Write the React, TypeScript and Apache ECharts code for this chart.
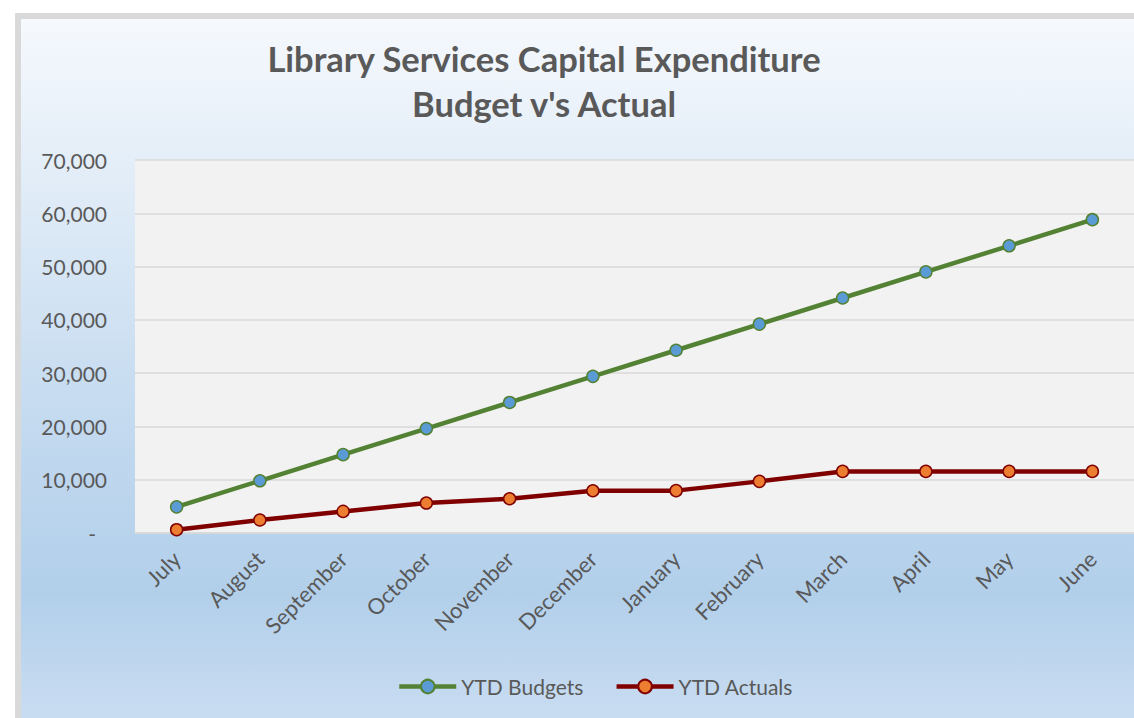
import React, { useEffect, useRef } from "react";
import * as echarts from "echarts";

const months = ["July", "August", "September", "October", "November", "December", "January", "February", "March", "April", "May", "June"];
const ytdBudgets = [4900, 9800, 14700, 19600, 24500, 29400, 34300, 39200, 44100, 49000, 53900, 58800];
const ytdActuals = [620, 2440, 4050, 5620, 6430, 7930, 7950, 9690, 11560, 11560, 11560, 11560];
const yMin = 0;
const yMax = 70000;
const yInterval = 10000;
const titleLines = ["Library Services Capital Expenditure", "Budget v's Actual"];
const seriesNames = ["YTD Budgets", "YTD Actuals"];

const FONT = "Lato, 'Open Sans', sans-serif";
const TEXT = "#595959";

export default function App() {
  const ref = useRef<HTMLDivElement>(null);
  useEffect(() => {
    if (!ref.current) return;
    const chart = echarts.init(ref.current, null, { renderer: "svg" });
    chart.setOption({
      animation: false,
      backgroundColor: "#ffffff",
      textStyle: { fontFamily: FONT },
      graphic: [
        {
          type: "rect",
          z: -10,
          silent: true,
          shape: { x: 18, y: 16, width: 1140, height: 760 },
          style: {
            stroke: "#d9d9d9",
            lineWidth: 6,
            fill: new echarts.graphic.LinearGradient(0, 0, 0, 1, [
              { offset: 0, color: "#f6f9fd" },
              { offset: 0.19, color: "#e4eef8" },
              { offset: 0.55, color: "#c2d9ef" },
              { offset: 0.76, color: "#b2cfea" },
              { offset: 0.92, color: "#c8dcf1" },
              { offset: 1, color: "#cfe1f3" },
            ]),
          },
        },
        {
          type: "text",
          z: 10,
          x: 544,
          y: 36,
          style: {
            text: titleLines.join("\n"),
            fill: TEXT,
            font: `bold 34.5px ${FONT}`,
            textAlign: "center",
            textVerticalAlign: "top",
            lineHeight: 45,
          },
        },
      ],
      grid: {
        left: 135,
        top: 160,
        width: 1000,
        height: 373,
        show: true,
        backgroundColor: "#f2f2f2",
        borderWidth: 0,
      },
      legend: {
        left: 392,
        top: 671,
        itemWidth: 57,
        itemHeight: 17,
        itemGap: 31,
        lineStyle: { width: 4.5 },
        textStyle: { color: TEXT, fontSize: 21, fontFamily: FONT },
        data: seriesNames,
      },
      xAxis: {
        type: "category",
        data: months,
        boundaryGap: true,
        axisLine: { lineStyle: { color: "#d9d9d9", width: 1.5 } },
        axisTick: { show: false },
        axisLabel: { rotate: 45, color: TEXT, fontSize: 22, fontFamily: FONT, margin: 22, interval: 0 },
      },
      yAxis: {
        type: "value",
        min: yMin,
        max: yMax,
        interval: yInterval,
        axisLine: { show: false },
        axisTick: { show: false },
        splitLine: { lineStyle: { color: "#d9d9d9", width: 1.5 } },
        axisLabel: {
          color: TEXT,
          fontSize: 21,
          fontFamily: FONT,
          margin: 28,
          formatter: (v: number) => (v === 0 ? "{d|-}" : v.toLocaleString("en-US")),
          rich: { d: { color: TEXT, fontSize: 21, fontFamily: FONT, padding: [0, 11, 0, 0] } },
        },
      },
      series: [
        {
          name: seriesNames[0],
          type: "line",
          data: ytdBudgets,
          symbol: "circle",
          symbolSize: 12,
          lineStyle: { color: "#548235", width: 4.5 },
          itemStyle: { color: "#5b9bd5", borderColor: "#548235", borderWidth: 1.5 },
        },
        {
          name: seriesNames[1],
          type: "line",
          data: ytdActuals,
          symbol: "circle",
          symbolSize: 12,
          lineStyle: { color: "#800000", width: 4.5 },
          itemStyle: { color: "#ed7d31", borderColor: "#800000", borderWidth: 1.5 },
        },
      ],
    });
    return () => chart.dispose();
  }, []);
  return <div ref={ref} style={{ position: "fixed", left: 0, top: 0, width: 1134, height: 718 }} />;
}
